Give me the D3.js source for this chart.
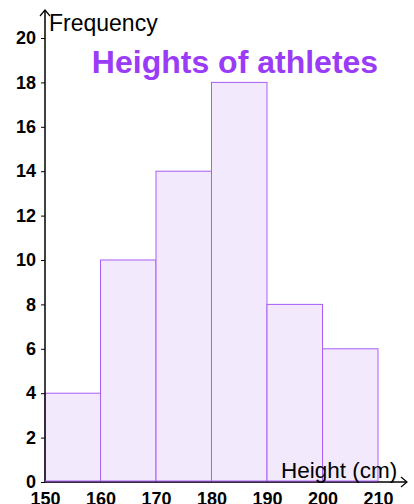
<!DOCTYPE html>
<html>
<head>
<meta charset="utf-8">
<script src="https://cdn.jsdelivr.net/npm/d3@7"></script>
<style>
  body { margin: 0; background: #fff; }
  text { font-family: "Liberation Sans", Arial, sans-serif; }
</style>
</head>
<body>
<script>
var svgWidth = 414;
var svgHeight = 504;

// histogram data
var binEdges = [150, 160, 170, 180, 190, 200, 210];
var frequencies = [4, 10, 14, 18, 8, 6];
var yTicks = [0, 2, 4, 6, 8, 10, 12, 14, 16, 18, 20];

var svg = d3.select("body").append("svg")
            .attr("width", svgWidth)
            .attr("height", svgHeight);

var x = d3.scaleLinear().domain([150, 210]).range([45, 378]);
var y = d3.scaleLinear().domain([0, 20]).range([482, 38]);

var bins = frequencies.map(function(f, i){
  return { x0: binEdges[i], x1: binEdges[i + 1], f: f };
});

svg.selectAll("rect.bar")
   .data(bins)
   .enter()
   .append("rect")
   .attr("class", "bar")
   .attr("x", function(d){ return x(d.x0); })
   .attr("y", function(d){ return y(d.f); })
   .attr("width", function(d){ return x(d.x1) - x(d.x0); })
   .attr("height", function(d){ return y(0) - y(d.f); })
   .attr("fill", "#f2e9fd")
   .attr("stroke", "#a95ef5")
   .attr("stroke-width", 1);

// y axis
var yaxis = d3.axisLeft(y).tickValues(yTicks).tickSize(4).tickPadding(5);
var gy = svg.append("g")
   .attr("transform", "translate(45,0)")
   .call(yaxis);
gy.select(".domain").remove();
gy.selectAll("text")
  .attr("font-size", "18px")
  .attr("font-weight", "bold")
  .attr("fill", "#000")
  .attr("font-family", "Liberation Sans, Arial, sans-serif");

// x axis labels
var xaxis = d3.axisBottom(x).tickValues(binEdges).tickSize(0).tickPadding(10);
var gx = svg.append("g")
   .attr("transform", "translate(0,482)")
   .call(xaxis);
gx.select(".domain").remove();
gx.selectAll("text")
  .attr("font-size", "18px")
  .attr("font-weight", "bold")
  .attr("fill", "#000")
  .attr("font-family", "Liberation Sans, Arial, sans-serif");

// axis lines with arrows
svg.append("line").attr("x1", 45).attr("y1", 482).attr("x2", 45).attr("y2", 10)
   .attr("stroke", "#000").attr("stroke-width", 1.5);
svg.append("path").attr("d", "M40,16 L45,10 L50,16")
   .attr("fill", "none").attr("stroke", "#000").attr("stroke-width", 1.2);
svg.append("line").attr("x1", 45).attr("y1", 482).attr("x2", 407).attr("y2", 482)
   .attr("stroke", "#000").attr("stroke-width", 1.5);
svg.append("path").attr("d", "M401,477 L407,482 L401,487")
   .attr("fill", "none").attr("stroke", "#000").attr("stroke-width", 1.2);

// purple baseline over the axis
svg.append("line").attr("x1", x(150)).attr("x2", x(210)).attr("y1", 481).attr("y2", 481)
   .attr("stroke", "#a95ef5").attr("stroke-width", 1);

svg.append("text")
   .attr("x", 49).attr("y", 31)
   .attr("font-size", "23px")
   .text("Frequency");

svg.append("text")
   .attr("x", 281).attr("y", 478)
   .attr("font-size", "22.5px")
   .text("Height (cm)");

svg.append("text")
   .attr("x", 235).attr("y", 73)
   .attr("text-anchor", "middle")
   .attr("font-size", "32px")
   .attr("font-weight", "bold")
   .attr("fill", "#9a3cf7")
   .text("Heights of athletes");
</script>
</body>
</html>
